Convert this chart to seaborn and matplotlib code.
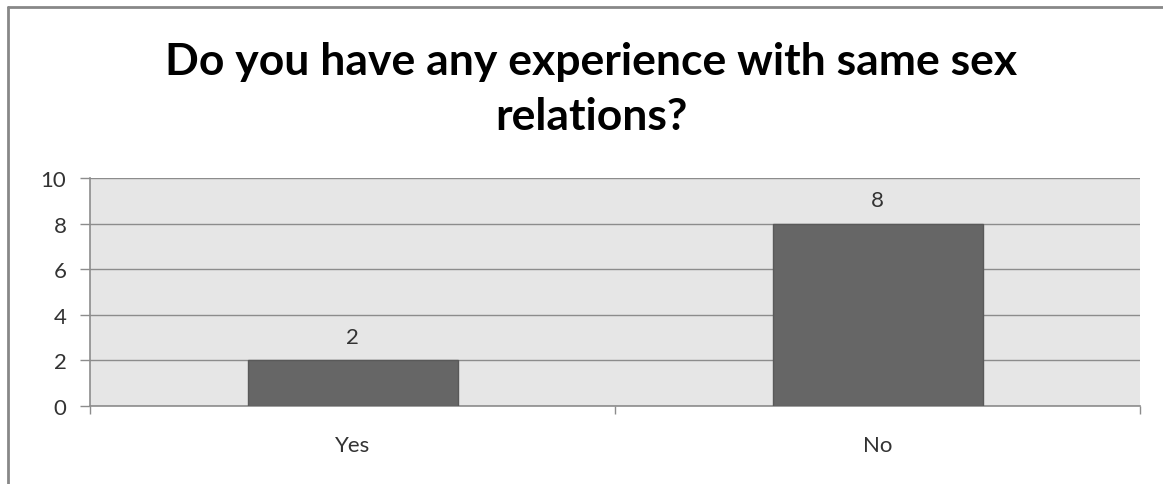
import matplotlib
matplotlib.use("Agg")
import matplotlib.pyplot as plt
from matplotlib.lines import Line2D
from matplotlib.ticker import FixedLocator, NullFormatter
import seaborn as sns
import pandas as pd

# Survey answers and counts
categories = ["Yes", "No"]
counts = [2, 8]
y_ticks = [0, 2, 4, 6, 8, 10]
title_lines = ["Do you have any experience with same sex", "relations?"]

sns.set_theme(style="white")
plt.rcParams["font.family"] = ["Lato", "DejaVu Sans"]

df = pd.DataFrame({"answer": categories, "count": counts})

W, H = 1163, 485
fig = plt.figure(figsize=(W / 100, H / 100), dpi=100)
fig.patch.set_facecolor("white")
ax = fig.add_axes([90 / W, 1 - 407 / H, (1140 - 90) / W, (407 - 179) / H])
ax.set_facecolor("#e6e6e6")

sns.barplot(data=df, x="answer", y="count", color="#666666", saturation=1,
            width=0.4, edgecolor="#595959", linewidth=1, ax=ax, zorder=3)

ax.set_xlim(-0.5, len(categories) - 0.5)
ax.set_ylim(0, 10)
ax.set_yticks(y_ticks)
ax.set_xlabel("")
ax.set_ylabel("")

# horizontal gridlines
ax.yaxis.grid(True, color="#8c8c8c", linewidth=1)
ax.xaxis.grid(False)
ax.set_axisbelow(True)

for side in ("top", "right"):
    ax.spines[side].set_visible(False)
for side in ("left", "bottom"):
    ax.spines[side].set_color("#8c8c8c")
    ax.spines[side].set_linewidth(1.2)

text_color = "#333333"

# tick marks between categories, labels centred on the bars
ax.xaxis.set_minor_locator(FixedLocator([-0.5, 0.5, 1.5]))
ax.xaxis.set_minor_formatter(NullFormatter())
ax.tick_params(axis="x", which="major", length=0, pad=21, labelsize=16, labelcolor=text_color)
ax.tick_params(axis="x", which="minor", bottom=True, length=6, width=1, color="#8c8c8c")
ax.tick_params(axis="y", which="major", left=True, length=7, width=1, color="#8c8c8c",
               pad=10, labelsize=16, labelcolor=text_color)

for container in ax.containers:
    ax.bar_label(container, labels=[str(v) for v in counts], padding=10,
                 fontsize=16, color=text_color)

# two-line bold title
for line, base_px in zip(title_lines, (75, 130)):
    fig.text(591 / W, 1 - base_px / H, line, ha="center", va="baseline",
             fontsize=32, fontweight="bold", color="black")

# outer chart frame
frame_kw = dict(color="#888888", linewidth=2, transform=fig.transFigure)
fig.add_artist(Line2D([8 / W, 8 / W], [0, 1 - 8 / H], **frame_kw))
fig.add_artist(Line2D([8 / W, 1], [1 - 8 / H, 1 - 8 / H], **frame_kw))

fig.savefig("out.png", dpi=100)
